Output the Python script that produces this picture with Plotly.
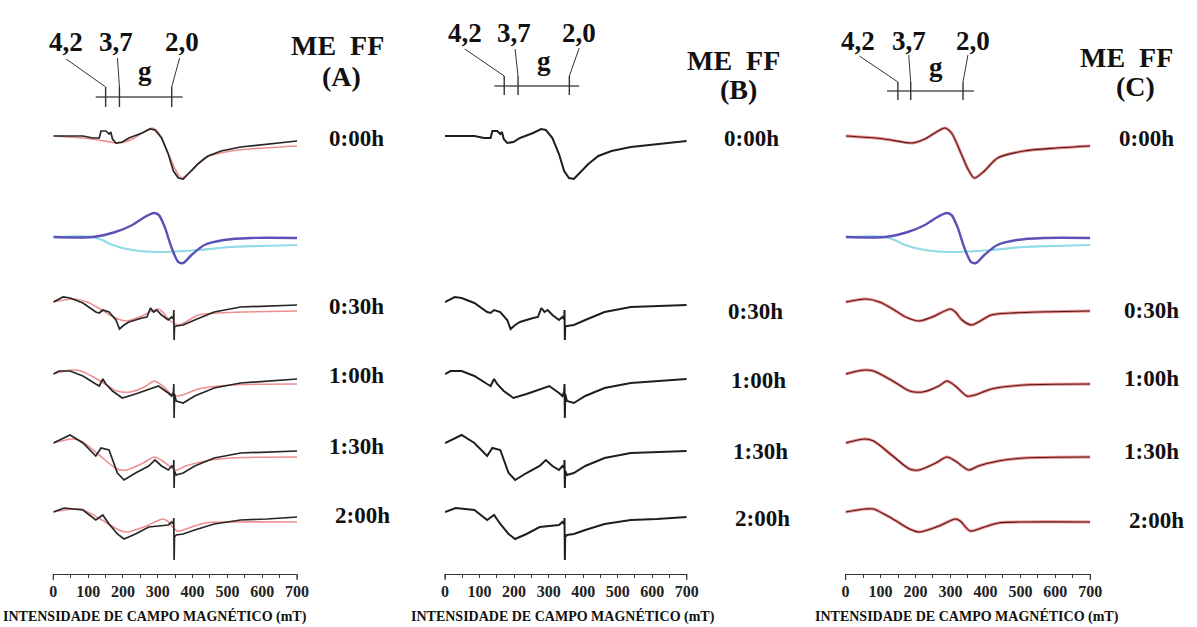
import plotly.graph_objects as go

# ---------------- data ----------------
TIMES = ["0:00h", "0:30h", "1:00h", "1:30h", "2:00h"]
X_TICKS = [0, 100, 200, 300, 400, 500, 600, 700]
G_LABELS = ["4,2", "3,7", "2,0"]
AXIS_TITLE = "INTENSIDADE DE CAMPO MAGNÉTICO (mT)"
PANEL_NAMES = ["(A)", "(B)", "(C)"]

# experimental spectra (field in mT, relative intensity)
exp_000_x = [0, 85, 113, 132, 137, 151, 160, 165, 170, 180, 198, 217, 255, 278, 292, 311, 330, 345, 359, 373, 387, 415, 444, 482, 538, 614, 700]
exp_000_y = [0, 0, -2, -2, 5, 5, 2, 4, -3, -7, -6, -2, 3, 7, 6, -2, -18, -35, -42, -43, -38, -28, -20, -15, -11, -8, -5]
exp_030_x = [0, 28, 48, 85, 122, 132, 142, 160, 180, 190, 203, 217, 255, 269, 279, 288, 297, 311, 330, 340, 345, 346, 347, 348, 353, 373, 406, 462, 538, 614, 700]
exp_030_y = [0, 5, 4, -1, -10, -11, -8, -10, -18, -27, -23, -20, -16, -15, -6, -10, -8, -13, -18, -15, -17, -8, -38, -25, -24, -23, -18, -10, -5, -4, -3]
exp_100_x = [0, 16, 48, 85, 122, 132, 142, 151, 170, 198, 236, 274, 302, 330, 340, 345, 346, 347, 348, 353, 373, 406, 462, 538, 614, 700]
exp_100_y = [0, 3, 3, -2, -10, -12, -5, -10, -17, -24, -20, -15, -12, -19, -22, -18, -10, -44, -20, -27, -29, -22, -14, -9, -7, -5]
exp_130_x = [0, 48, 85, 122, 137, 160, 184, 203, 236, 274, 292, 311, 330, 340, 345, 346, 347, 348, 353, 373, 406, 462, 538, 614, 700]
exp_130_y = [0, 8, 0, -13, -5, -7, -30, -37, -30, -23, -17, -23, -27, -23, -25, -17, -45, -28, -32, -30, -23, -15, -10, -9, -8]
exp_200_x = [0, 31, 85, 122, 142, 160, 184, 203, 236, 274, 330, 340, 345, 346, 347, 348, 353, 373, 406, 462, 538, 614, 700]
exp_200_y = [0, 4, 2, -8, -3, -12, -22, -27, -22, -15, -13, -10, -12, -6, -48, -25, -23, -22, -18, -12, -8, -7, -5]

# simulated spectra
sim_000_x = [0, 86, 130, 190, 227, 260, 284, 303, 331, 350, 368, 397, 435, 510, 604, 700]
sim_000_y = [0, -2, -4, -7, -3, 4, 8, 3, -18, -33, -42, -35, -22, -15, -12, -10]
sim_030_x = [0, 60, 97, 135, 172, 210, 248, 300, 314, 333, 361, 380, 417, 474, 549, 700]
sim_030_y = [0, 3, 0, -7, -15, -19, -15, -7, -10, -18, -23, -20, -13, -11, -10, -9]
sim_100_x = [0, 55, 80, 135, 183, 220, 267, 290, 314, 347, 370, 417, 512, 700]
sim_100_y = [0, 4, 3, -7, -17, -18, -12, -7, -12, -22, -21, -15, -11, -10]
sim_130_x = [0, 55, 80, 135, 183, 210, 258, 290, 314, 352, 380, 437, 512, 700]
sim_130_y = [0, 4, 2, -13, -26, -27, -20, -14, -18, -27, -23, -18, -15, -14]
sim_200_x = [0, 55, 80, 135, 183, 210, 267, 314, 328, 356, 389, 437, 512, 700]
sim_200_y = [0, 3, 3, -7, -17, -20, -14, -7, -9, -19, -16, -11, -10, -10]

# simulation components
comp_blue_x = [0, 113, 178, 227, 263, 289, 303, 320, 340, 359, 373, 397, 434, 490, 567, 700]
comp_blue_y = [0, 0, 5, 12, 20, 24, 22, 10, -11, -25, -26, -18, -8, -3, -1, -1]
comp_cyan_x = [0, 113, 140, 170, 227, 303, 416, 510, 600, 700]
comp_cyan_y = [0, 0, -3, -8, -13, -15, -13, -10, -9, -8]

EXP = [(exp_000_x, exp_000_y), (exp_030_x, exp_030_y), (exp_100_x, exp_100_y),
       (exp_130_x, exp_130_y), (exp_200_x, exp_200_y)]
SIM = [(sim_000_x, sim_000_y), (sim_030_x, sim_030_y), (sim_100_x, sim_100_y),
       (sim_130_x, sim_130_y), (sim_200_x, sim_200_y)]

# ---------------- layout constants (pixels) ----------------
W, H = 1197, 627
AXIS_Y = 574
ROW_Y = [136, 302, 374, 443, 512]
COMP_ROW_Y = 237
FONT = "Liberation Serif"


def px(x):
    return x / W


def py(y):
    return 1 - y / H


fig = go.Figure()


def add_line(xs, ys, base, axis, color, width, shape="linear"):
    fig.add_trace(go.Scatter(
        x=xs, y=[base - v for v in ys], xaxis=axis, yaxis="y",
        mode="lines", line=dict(color=color, width=width, shape=shape, smoothing=0.8),
        hoverinfo="skip", showlegend=False))


# Panel A: experimental (black) + simulation (pink)
for i in range(5):
    add_line(SIM[i][0], SIM[i][1], ROW_Y[i], "x", "#ee8f8f", 1.6, "spline")
    add_line(EXP[i][0], EXP[i][1], ROW_Y[i], "x", "#262626", 1.7)
# Panel B: experimental only
for i in range(5):
    add_line(EXP[i][0], EXP[i][1], ROW_Y[i], "x2", "#1e1e1e", 2.0)
# Panel C: simulation (light red halo with dark core)
for i in range(5):
    add_line(SIM[i][0], SIM[i][1], ROW_Y[i], "x3", "#f08a8a", 3.0, "spline")
    add_line(SIM[i][0], SIM[i][1], ROW_Y[i], "x3", "#4a1c1c", 1.1, "spline")
# component rows (A and C)
for ax in ["x", "x3"]:
    add_line(comp_cyan_x, comp_cyan_y, COMP_ROW_Y, ax, "#8fdbe6", 2.2, "spline")
    add_line(comp_blue_x, comp_blue_y, COMP_ROW_Y, ax, "#5b52b5", 2.4, "spline")

PANELS = [
    dict(ax="", dom=(50, 297), lab_x=[63, 114, 180], lab_y=42, g=(143, 71),
         gline=(93, 181, 97), ticks=[103, 117, 170], tick_y=(87, 107),
         lead0=[(63, 59), (115, 58), (178, 58)], lead_y1=87,
         mefe=(338, 45), name=(342, 77),
         tx=[357, 357, 357, 357, 363], ty=[138, 306, 376, 447, 515], title_x=153),
    dict(ax="2", dom=(447, 692), lab_x=[467, 517, 583], lab_y=33, g=(547, 61),
         gline=(497, 583, 86), ticks=[507, 521, 573], tick_y=(76, 95),
         lead0=[(467, 49), (518, 49), (583, 48)], lead_y1=76,
         mefe=(739, 60), name=(744, 90),
         tx=[758, 762, 765, 767, 769], ty=[139, 312, 380, 452, 518], title_x=567),
    dict(ax="3", dom=(853, 1101), lab_x=[866, 917, 982], lab_y=41, g=(945, 67),
         gline=(895, 983, 91), ticks=[906, 919, 972], tick_y=(82, 100),
         lead0=[(867, 56), (917, 55), (977, 55)], lead_y1=82,
         mefe=(1138, 57), name=(1147, 87),
         tx=[1158, 1163, 1163, 1163, 1168], ty=[138, 310, 378, 452, 520], title_x=976),
]

shapes = []
annotations = []
axis_common = dict(range=[0, 700], anchor="y", showline=True, linecolor="#333",
                   linewidth=1, ticks="outside", ticklen=3, tickwidth=1, tickcolor="#333",
                   tickvals=X_TICKS, ticktext=["<b>" + str(t) + "</b>" for t in X_TICKS],
                   minor=dict(dtick=50, ticks="outside", ticklen=3, tickcolor="#333"),
                   showgrid=False, zeroline=False, fixedrange=True,
                   tickfont=dict(family=FONT, size=16, color="#222"))

layout_axes = {}
for k, p in enumerate(PANELS):
    name = "xaxis" + p["ax"]
    layout_axes[name] = dict(domain=[px(p["dom"][0]), px(p["dom"][1])], **axis_common)

    def seg(x0, y0, x1, y1, w=1.0, c="#333"):
        shapes.append(dict(type="line", xref="paper", yref="paper",
                           x0=px(x0), y0=py(y0), x1=px(x1), y1=py(y1),
                           line=dict(color=c, width=w)))

    def txt(x, y, s, size):
        annotations.append(dict(xref="paper", yref="paper", x=px(x), y=py(y),
                                text="<b>" + s + "</b>", showarrow=False,
                                xanchor="center", yanchor="middle",
                                font=dict(family=FONT, size=size, color="#111")))

    # g scale
    gx0, gx1, gy = p["gline"]
    seg(gx0, gy, gx1, gy, 1.4, "#555")
    for tx_ in p["ticks"]:
        seg(tx_, p["tick_y"][0], tx_, p["tick_y"][1], 1.4, "#333")
    for (lx, ly), tx_ in zip(p["lead0"], p["ticks"]):
        seg(lx, ly, tx_, p["lead_y1"], 1.0, "#333")
    for lab, lx in zip(G_LABELS, p["lab_x"]):
        txt(lx, p["lab_y"], lab, 27)
    txt(p["g"][0], p["g"][1], "g", 27)
    txt(p["mefe"][0], p["mefe"][1], "ME\u00a0\u00a0FF", 28)
    txt(p["name"][0], p["name"][1], PANEL_NAMES[k], 28)
    for t, x_, y_ in zip(TIMES, p["tx"], p["ty"]):
        txt(x_, y_, t, 23)
    # axis title and end ticks
    txt(p["title_x"], 616, AXIS_TITLE, 14)
    seg(p["dom"][0], AXIS_Y, p["dom"][0], AXIS_Y + 6, 1.2, "#333")
    seg(p["dom"][1], AXIS_Y, p["dom"][1], AXIS_Y + 6, 1.2, "#333")

fig.update_layout(
    width=W, height=H, margin=dict(l=0, r=0, t=0, b=0),
    paper_bgcolor="white", plot_bgcolor="white",
    yaxis=dict(domain=[(H - AXIS_Y) / H, 1], range=[AXIS_Y, 0], visible=False,
               fixedrange=True),
    shapes=shapes, annotations=annotations, showlegend=False,
    **layout_axes,
)

fig.write_html("out.html")
